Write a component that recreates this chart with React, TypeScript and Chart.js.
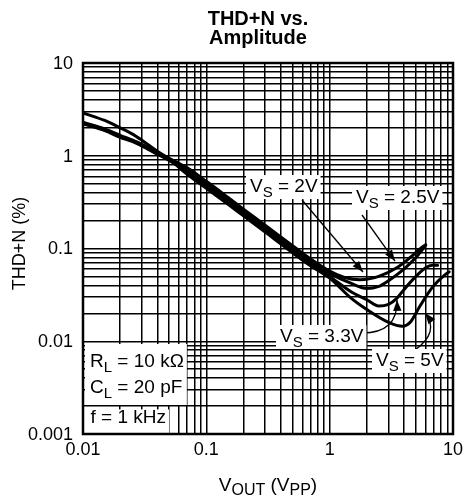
import { useEffect, useRef } from 'react';
import { Chart, registerables } from 'chart.js';

Chart.register(...registerables);

const titleLines = ['THD+N vs.', 'Amplitude'];
const yAxisTitle = 'THD+N (%)';
const xTickLabels = ['0.01', '0.1', '1', '10'];
const yTickLabels = ['0.001', '0.01', '0.1', '1', '10'];

const vout2V = [0.01, 0.015, 0.02, 0.025, 0.03, 0.04, 0.05, 0.07, 0.1, 0.15, 0.2, 0.3, 0.5, 0.7, 1, 1.3, 1.76, 2.5, 3.5, 4.5, 5.3, 6];
const thd2V = [2.3, 1.95, 1.66, 1.48, 1.33, 1.09, 0.94, 0.74, 0.53, 0.355, 0.266, 0.178, 0.107, 0.077, 0.057, 0.049, 0.046, 0.05, 0.062, 0.08, 0.097, 0.11];

const vout25V = [0.01, 0.015, 0.02, 0.025, 0.03, 0.04, 0.05, 0.07, 0.1, 0.15, 0.2, 0.3, 0.5, 0.7, 1, 1.5, 2, 2.5, 3, 4, 5, 6];
const thd25V = [2.25, 1.9, 1.6, 1.45, 1.3, 1.05, 0.91, 0.7, 0.5, 0.335, 0.251, 0.168, 0.101, 0.073, 0.054, 0.042, 0.037, 0.039, 0.045, 0.06, 0.08, 0.108];

const vout33V = [0.01, 0.015, 0.02, 0.025, 0.03, 0.04, 0.05, 0.07, 0.1, 0.15, 0.2, 0.3, 0.5, 0.7, 1, 1.5, 2, 2.5, 3, 3.5, 4, 5, 6, 6.8, 7.5];
const thd33V = [2.2, 1.87, 1.58, 1.43, 1.28, 1.04, 0.89, 0.66, 0.47, 0.315, 0.237, 0.158, 0.095, 0.069, 0.05, 0.034, 0.028, 0.024, 0.025, 0.029, 0.036, 0.05, 0.062, 0.066, 0.066];

const vout5V = [0.01, 0.015, 0.02, 0.025, 0.03, 0.04, 0.05, 0.07, 0.1, 0.15, 0.2, 0.3, 0.5, 0.7, 1, 1.5, 2, 3, 3.9, 4.5, 5.4, 6.9, 8.6, 9.3];
const thd5V = [2.9, 2.4, 2.0, 1.72, 1.47, 1.12, 0.92, 0.63, 0.445, 0.3, 0.225, 0.15, 0.09, 0.065, 0.048, 0.029, 0.022, 0.016, 0.0145, 0.016, 0.024, 0.039, 0.052, 0.056];

type Seg = [string, number];

// curve labels, anchored in data coordinates (text left / baseline)
const curveLabels: { segs: Seg[]; at: [number, number]; from: [number, number]; ctrl?: [number, number]; to: [number, number] }[] = [
  { segs: [['V', 0], ['S', 1], [' = 2V', 0]], at: [0.226, 0.406], from: [0.597, 0.333], to: [1.863, 0.0558] },
  { segs: [['V', 0], ['S', 1], [' = 2.5V', 0]], at: [1.635, 0.3094], from: [1.829, 0.2297], to: [3.386, 0.0733] },
  { segs: [['V', 0], ['S', 1], [' = 3.3V', 0]], at: [0.3957, 0.00982], from: [1.829, 0.01227], ctrl: [3.581, 0.01227], to: [3.516, 0.02786] },
  { segs: [['V', 0], ['S', 1], [' = 5V', 0]], at: [2.375, 0.00541], from: [4.92, 0.00805], ctrl: [7.85, 0.01259], to: [5.93, 0.02017] },
];

const conditionLines: Seg[][] = [
  [['R', 0], ['L', 1], [' = 10 kΩ', 0]],
  [['C', 0], ['L', 1], [' = 20 pF', 0]],
  [['f = 1 kHz', 0]],
];
const conditionAnchors: [number, number][] = [[0.0114, 0.00528], [0.0114, 0.002767], [0.0115, 0.0013]];

const xAxisTitle: Seg[] = [['V', 0], ['OUT', 1], [' (V', 0], ['PP', 1], [')', 0]];

const FONT = '"Liberation Sans", Arial, Helvetica, sans-serif';

function logGrid(min: number, max: number) {
  const out: number[] = [];
  const e0 = Math.round(Math.log10(min));
  const e1 = Math.round(Math.log10(max));
  for (let e = e0; e < e1; e++) {
    for (let m = 1; m < 10; m++) out.push(Number((m * Math.pow(10, e)).toPrecision(6)));
  }
  out.push(max);
  return out;
}

function segWidth(ctx: CanvasRenderingContext2D, segs: Seg[], size: number, sub: number) {
  let w = 0;
  for (const [t, s] of segs) {
    ctx.font = `${s ? sub : size}px ${FONT}`;
    w += ctx.measureText(t).width;
  }
  return w;
}

function drawSegs(ctx: CanvasRenderingContext2D, segs: Seg[], x: number, y: number, size: number, sub: number, drop: number) {
  let cx = x;
  ctx.textAlign = 'left';
  ctx.textBaseline = 'alphabetic';
  for (const [t, s] of segs) {
    ctx.font = `${s ? sub : size}px ${FONT}`;
    ctx.fillText(t, cx, y + (s ? drop : 0));
    cx += ctx.measureText(t).width;
  }
}

function arrowHead(ctx: CanvasRenderingContext2D, fx: number, fy: number, tx: number, ty: number) {
  const ang = Math.atan2(ty - fy, tx - fx);
  const len = 11;
  const hw = 4.2;
  ctx.beginPath();
  ctx.moveTo(tx, ty);
  ctx.lineTo(tx - len * Math.cos(ang) + hw * Math.sin(ang), ty - len * Math.sin(ang) - hw * Math.cos(ang));
  ctx.lineTo(tx - len * Math.cos(ang) - hw * Math.sin(ang), ty - len * Math.sin(ang) + hw * Math.cos(ang));
  ctx.closePath();
  ctx.fill();
}

const annotationPlugin = {
  id: 'annot',
  afterDatasetsDraw(chart: any) {
    const ctx: CanvasRenderingContext2D = chart.ctx;
    const xs = chart.scales.x;
    const ys = chart.scales.y;
    const area = chart.chartArea;
    const P = (p: [number, number]) => [xs.getPixelForValue(p[0]), ys.getPixelForValue(p[1])];
    ctx.save();
    ctx.fillStyle = '#000';
    ctx.strokeStyle = '#000';

    // arrows
    for (const lab of curveLabels) {
      const [fx, fy] = P(lab.from);
      const [tx, ty] = P(lab.to);
      ctx.lineWidth = 1.3;
      ctx.beginPath();
      ctx.moveTo(fx, fy);
      let px = fx;
      let py = fy;
      if (lab.ctrl) {
        const [cx, cy] = P(lab.ctrl);
        ctx.quadraticCurveTo(cx, cy, tx, ty);
        px = cx;
        py = cy;
      } else {
        ctx.lineTo(tx, ty);
      }
      ctx.stroke();
      arrowHead(ctx, px, py, tx, ty);
    }

    // labels
    for (const lab of curveLabels) {
      const [lx, ly] = P(lab.at);
      const w = segWidth(ctx, lab.segs, 19, 15);
      ctx.fillStyle = '#fff';
      ctx.fillRect(lx - 4, ly - 17, w + 7, 24);
      ctx.fillStyle = '#000';
      drawSegs(ctx, lab.segs, lx, ly, 19, 15, 5);
    }

    // conditions
    const a0 = P(conditionAnchors[0]);
    const a1 = P(conditionAnchors[1]);
    const a2 = P(conditionAnchors[2]);
    const w0 = Math.max(segWidth(ctx, conditionLines[0], 19, 15), segWidth(ctx, conditionLines[1], 19, 15));
    const w2 = segWidth(ctx, conditionLines[2], 19, 15);
    ctx.fillStyle = '#fff';
    ctx.fillRect(area.left + 2, a0[1] - 23, a0[0] + w0 + 3 - (area.left + 2), a1[1] + 12 - (a0[1] - 23));
    ctx.fillRect(area.left + 2, a2[1] - 14, a2[0] + w2 + 3 - (area.left + 2), area.bottom - (a2[1] - 14));
    ctx.fillStyle = '#000';
    conditionLines.forEach((segs, i) => {
      const [x, y] = P(conditionAnchors[i]);
      drawSegs(ctx, segs, x, y, 19, 15, 5);
    });

    // frame
    ctx.lineWidth = 2.5;
    ctx.strokeRect(area.left, area.top, area.right - area.left, area.bottom - area.top);
    ctx.restore();
  },
  afterDraw(chart: any) {
    const ctx: CanvasRenderingContext2D = chart.ctx;
    const area = chart.chartArea;
    const xs = chart.scales.x;
    const ys = chart.scales.y;
    ctx.save();
    ctx.fillStyle = '#000';

    // tick labels
    ctx.font = `18px ${FONT}`;
    ctx.textAlign = 'right';
    ctx.textBaseline = 'middle';
    for (const l of yTickLabels) {
      ctx.fillText(l, area.left - 10, ys.getPixelForValue(Number(l)) + 1);
    }
    ctx.textAlign = 'center';
    for (const l of xTickLabels) {
      ctx.fillText(l, xs.getPixelForValue(Number(l)), area.bottom + 16);
    }

    ctx.textAlign = 'center';
    ctx.textBaseline = 'alphabetic';
    ctx.font = `bold 20px ${FONT}`;
    ctx.fillText(titleLines[0], 258, 25);
    ctx.fillText(titleLines[1], 258, 43.5);

    // y title
    ctx.save();
    ctx.translate(24.5, (area.top + area.bottom) / 2 - 5);
    ctx.rotate(-Math.PI / 2);
    ctx.font = `18px ${FONT}`;
    ctx.textAlign = 'center';
    ctx.fillText(yAxisTitle, 0, 0);
    ctx.restore();

    // x title
    const w = segWidth(ctx, xAxisTitle, 19, 16);
    const cx = (area.left + area.right) / 2;
    drawSegs(ctx, xAxisTitle, cx - w / 2, 491, 19, 16, 4);
    ctx.restore();
  },
};

export default function App() {
  const ref = useRef<HTMLCanvasElement>(null);
  useEffect(() => {
    if (!ref.current) return;
    const xGrid = logGrid(0.01, 10);
    const yGrid = logGrid(0.001, 10);
    const mk = (xs: number[], ys: number[], label: string) => ({
      label,
      data: xs.map((x, i) => ({ x, y: ys[i] })),
      borderColor: '#000',
      backgroundColor: '#000',
      borderWidth: 3,
      pointRadius: 0,
      fill: false,
      cubicInterpolationMode: 'monotone' as const,
      borderCapStyle: 'round' as const,
      borderJoinStyle: 'round' as const,
    });
    const chart = new Chart(ref.current, {
      type: 'line',
      data: {
        datasets: [
          mk(vout2V, thd2V, 'VS = 2V'),
          mk(vout25V, thd25V, 'VS = 2.5V'),
          mk(vout33V, thd33V, 'VS = 3.3V'),
          mk(vout5V, thd5V, 'VS = 5V'),
        ],
      },
      options: {
        responsive: false,
        animation: false,
        devicePixelRatio: 1,
        layout: { padding: { left: 0, right: 11, top: 63, bottom: 0 } },
        plugins: { legend: { display: false }, tooltip: { enabled: false }, title: { display: false } },
        scales: {
          x: {
            type: 'logarithmic',
            min: 0.01,
            max: 10,
            afterBuildTicks: (s: any) => {
              s.ticks = xGrid.map((v) => ({ value: v }));
            },
            afterFit: (s: any) => {
              s.height = 62;
            },
            grid: { color: '#000', lineWidth: 1.5, drawTicks: false },
            border: { display: false },
            ticks: { display: false, autoSkip: false },
          },
          y: {
            type: 'logarithmic',
            min: 0.001,
            max: 10,
            afterBuildTicks: (s: any) => {
              s.ticks = yGrid.map((v) => ({ value: v }));
            },
            afterFit: (s: any) => {
              s.width = 83;
            },
            grid: { color: '#000', lineWidth: 1.5, drawTicks: false },
            border: { display: false },
            ticks: { display: false, autoSkip: false },
          },
        },
      },
      plugins: [annotationPlugin],
    });
    return () => chart.destroy();
  }, []);
  return (
    <div style={{ position: 'fixed', left: 0, top: 0, width: 464, height: 496, background: '#fff' }}>
      <canvas ref={ref} width={464} height={496} style={{ display: 'block' }} />
    </div>
  );
}
